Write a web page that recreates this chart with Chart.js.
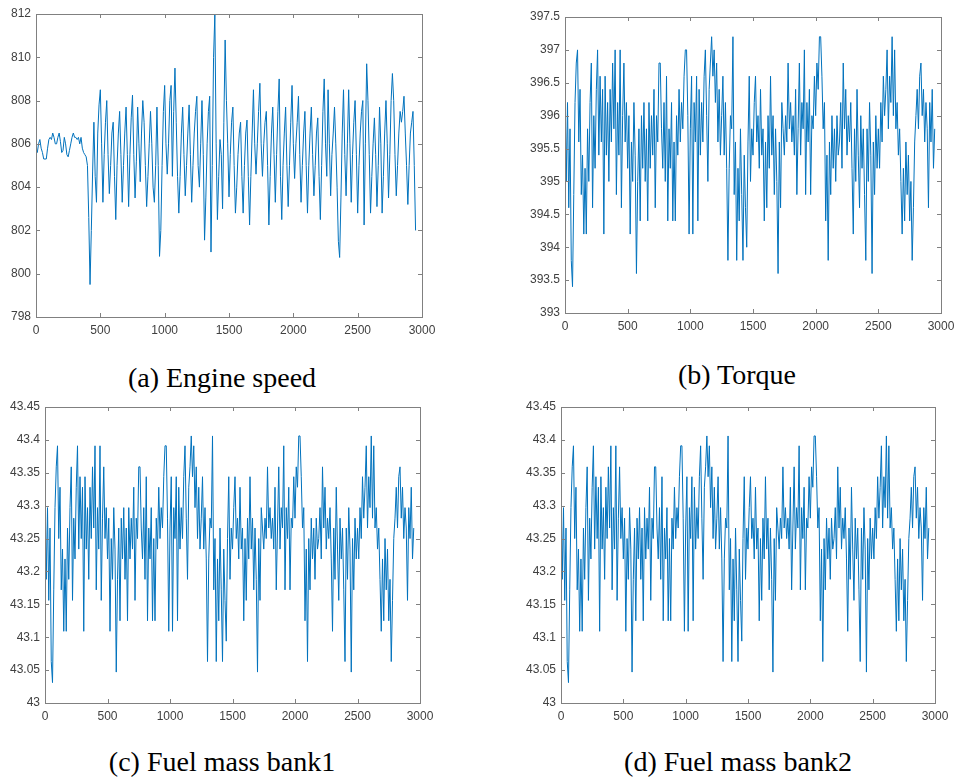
<!DOCTYPE html>
<html>
<head>
<meta charset="utf-8">
<script src="https://cdn.jsdelivr.net/npm/chart.js@4.4.1/dist/chart.umd.min.js"></script>
<style>
  html, body { margin: 0; padding: 0; background: #fff; }
  #page { position: relative; width: 954px; height: 778px; overflow: hidden; }
  canvas { position: absolute; }
  .cap {
    position: absolute; width: 400px; text-align: center;
    font-family: "Liberation Serif", "Times New Roman", serif;
    font-size: 28px; line-height: 28px; color: #000; white-space: nowrap;
  }
</style>
</head>
<body>
<div id="page">
  <canvas id="cSpeed" width="470" height="340" style="left:0;top:0"></canvas>
  <canvas id="cTorque" width="474" height="340" style="left:480px;top:0"></canvas>
  <canvas id="cBank1" width="470" height="340" style="left:0;top:395px"></canvas>
  <canvas id="cBank2" width="474" height="340" style="left:480px;top:395px"></canvas>
  <div class="cap" style="left:22px;top:364px">(a) Engine speed</div>
  <div class="cap" style="left:537px;top:361px">(b) Torque</div>
  <div class="cap" style="left:22px;top:748px">(c) Fuel mass bank1</div>
  <div class="cap" style="left:538px;top:748px">(d) Fuel mass bank2</div>
</div>
<script>
// samples every 10 steps, 0..2950
const SAMPLE_STEP = 10;

const engineSpeed = [
  805.8, 805.6, 806.0, 806.2, 805.8, 805.6, 805.3, 805.3, 805.3, 805.8,
  806.2, 806.3, 806.2, 806.5, 806.3, 806.0, 806.0, 806.3, 806.5, 806.1,
  805.6, 805.7, 806.3, 806.0, 805.5, 805.4, 805.7, 806.0, 806.3, 806.5,
  806.3, 806.3, 806.2, 806.3, 806.0, 806.3, 805.8, 805.6, 805.5, 805.4,
  805.0, 802.6, 799.5, 802.0, 804.7, 807.0, 804.5, 803.3, 806.5, 807.8,
  808.5, 806.0, 803.3, 805.5, 807.0, 808.0, 805.5, 803.7, 805.0, 806.5,
  807.0, 804.5, 802.5, 805.0, 806.5, 807.5, 805.5, 803.3, 805.0, 806.5,
  807.7, 805.5, 803.1, 805.5, 807.2, 808.25, 805.5, 803.5, 805.2, 807.7,
  806.0, 804.25, 806.5, 808.0, 807.0, 805.0, 803.1, 804.5, 806.0, 807.5,
  806.0, 804.0, 803.3, 805.0, 807.7, 805.0, 800.8, 802.0, 805.0, 807.5,
  808.7, 806.0, 804.6, 806.0, 808.0, 808.7, 804.5, 807.5, 809.5, 807.0,
  804.5, 802.8, 804.5, 806.5, 807.7, 805.5, 803.6, 805.0, 806.5, 807.8,
  805.5, 803.3, 805.0, 806.5, 807.5, 808.2, 805.0, 804.0, 806.0, 808.0,
  805.5, 801.55, 803.5, 806.0, 807.5, 808.2, 801.0, 805.0, 810.0, 812.0,
  806.0, 802.5, 804.5, 806.2, 805.5, 803.0, 807.0, 810.8, 808.0, 806.0,
  803.55, 805.5, 807.0, 807.7, 805.0, 802.8, 804.0, 805.5, 806.5, 807.0,
  804.5, 802.8, 805.0, 806.5, 807.1, 804.5, 802.25, 804.5, 806.5, 808.5,
  806.0, 804.6, 806.0, 807.5, 808.8, 806.0, 804.5, 806.0, 807.0, 807.5,
  805.0, 802.25, 804.5, 806.5, 807.7, 805.5, 803.3, 805.5, 807.5, 809.0,
  804.5, 802.5, 805.0, 806.5, 807.7, 805.0, 803.1, 805.0, 807.0, 808.7,
  806.0, 804.4, 806.0, 807.0, 808.2, 805.5, 803.3, 805.0, 806.5, 807.5,
  805.0, 802.8, 805.0, 806.5, 807.7, 805.5, 803.6, 805.0, 806.5, 807.2,
  804.5, 802.5, 805.0, 807.5, 809.0, 806.0, 804.5, 808.5, 806.0, 803.6,
  805.5, 806.5, 807.7, 806.0, 804.0, 801.5, 800.75, 803.5, 806.5, 808.5,
  805.5, 803.6, 806.0, 808.5, 806.0, 803.3, 805.5, 807.0, 808.0, 805.5,
  802.8, 805.0, 806.5, 807.5, 808.0, 802.25, 806.0, 809.7, 808.0, 805.5,
  802.8, 804.5, 806.0, 807.2, 805.5, 803.1, 805.0, 807.7, 806.0, 802.8,
  804.5, 806.5, 808.0, 806.0, 803.5, 805.5, 808.0, 809.25, 808.0, 805.5,
  803.6, 805.0, 806.5, 807.5, 807.0, 807.5, 808.2, 806.5, 805.0, 803.2,
  805.0, 806.5, 807.0, 807.5, 805.0, 802.0
];

const torque = [
  396.4, 395, 396.2, 394.6, 395.8, 393.8, 393.4, 394.8, 396.2, 396.8,
  397, 395.6, 396.4, 394.8, 395.4, 394.2, 395.2, 394.2, 395.8, 395,
  396.2, 396.8, 394.6, 396, 395.2, 396.4, 397, 395.4, 396.6, 395.6,
  396.4, 394.2, 396.6, 395.4, 396.2, 395, 396.4, 395.6, 396.8, 395.8,
  397, 394.8, 396.2, 395.4, 397, 394.6, 396, 396.8, 395.6, 396.2,
  395.2, 396, 394.2, 395.6, 395, 396.2, 395.4, 393.6, 395, 395.8,
  394.4, 396, 395.2, 396.2, 395, 395.8, 394.4, 396.2, 395.2, 396,
  395.4, 396.4, 394.6, 396, 395.6, 396.8, 396.8, 395.8, 395.2, 396.2,
  395, 396.6, 394.4, 395.8, 395.2, 396.2, 394.4, 395.6, 394.4, 396,
  395.4, 396.4, 395.6, 396.2, 395.8, 396.6, 397, 397, 396, 394.2,
  395.8, 396.6, 394.2, 396.2, 395.6, 396.6, 394.4, 396.4, 395.4, 396.2,
  395.6, 396.6, 397, 396, 395, 396.4, 396.8, 397.2, 396.6, 397,
  396.2, 396.8, 395.6, 396.4, 395.4, 396, 396.6, 395.4, 396.2, 395.2,
  393.8, 395.2, 396, 395.8, 397.2, 394.8, 395.6, 393.8, 395.2, 394.4,
  395.8, 394.8, 393.8, 395.4, 394.6, 394, 395.6, 396.6, 395, 395.8,
  395.4, 396.2, 396.6, 395.6, 396, 395.2, 396.4, 395.4, 395.8, 394.4,
  395.6, 394.6, 396, 395.2, 396.6, 395.4, 396, 394.8, 395.8, 395,
  393.6, 395.6, 394.6, 396.2, 395.8, 395.4, 396, 395.6, 396.8, 395.8,
  396.2, 395.6, 396, 395.4, 396.4, 394.8, 395.8, 396.8, 395.4, 396.2,
  395.8, 397, 394.8, 396.2, 395.6, 396.4, 394.8, 396, 395.8, 396.6,
  396, 396.8, 396.4, 397.2, 397.2, 396.6, 395.8, 396.2, 394.4, 395.4,
  393.8, 395.6, 394.8, 396, 395.2, 395.8, 395, 396, 395.4, 395.6,
  396.2, 395.2, 396.8, 395.8, 396.4, 395.4, 396, 395.6, 396.2, 395.2,
  394.2, 395.8, 395, 396.4, 395.4, 394.6, 396, 395.2, 395.8, 394.8,
  393.8, 395.8, 395, 396.2, 395.4, 393.6, 395.6, 394.8, 396, 395.2,
  395.8, 395.2, 396.2, 395.6, 396.6, 396, 396.4, 397, 395.8, 396.6,
  396.2, 397.2, 396, 397, 395.8, 396.2, 395.4, 395.8, 395, 394.2,
  395.2, 394.4, 395.6, 394.8, 395.4, 394.4, 395, 393.8, 394.6, 395.6,
  396, 396.4, 395.8, 396.6, 396.8, 396, 396.4, 395.6, 396.2, 395.8,
  394.6, 396.2, 395.6, 396.4, 395.2, 395.8
];

const fuelBank1 = [
  43.328, 43.188, 43.297, 43.156, 43.266, 43.063, 43.031, 43.172, 43.297, 43.359,
  43.391, 43.25, 43.328, 43.172, 43.234, 43.109, 43.219, 43.109, 43.266, 43.188,
  43.297, 43.359, 43.156, 43.281, 43.219, 43.328, 43.391, 43.234, 43.344, 43.25,
  43.328, 43.109, 43.344, 43.234, 43.297, 43.188, 43.328, 43.25, 43.359, 43.266,
  43.391, 43.172, 43.297, 43.234, 43.391, 43.156, 43.281, 43.359, 43.25, 43.297,
  43.219, 43.281, 43.109, 43.25, 43.188, 43.297, 43.234, 43.047, 43.188, 43.266,
  43.125, 43.281, 43.219, 43.297, 43.188, 43.266, 43.125, 43.297, 43.219, 43.281,
  43.234, 43.328, 43.156, 43.281, 43.25, 43.359, 43.359, 43.266, 43.219, 43.297,
  43.188, 43.344, 43.125, 43.266, 43.219, 43.297, 43.125, 43.25, 43.125, 43.281,
  43.234, 43.328, 43.25, 43.297, 43.266, 43.344, 43.391, 43.391, 43.281, 43.109,
  43.266, 43.344, 43.109, 43.297, 43.25, 43.344, 43.125, 43.328, 43.234, 43.297,
  43.25, 43.344, 43.391, 43.281, 43.188, 43.328, 43.359, 43.406, 43.344, 43.391,
  43.297, 43.359, 43.25, 43.328, 43.234, 43.281, 43.344, 43.234, 43.297, 43.219,
  43.063, 43.219, 43.281, 43.266, 43.406, 43.172, 43.25, 43.063, 43.219, 43.125,
  43.266, 43.172, 43.063, 43.234, 43.156, 43.094, 43.25, 43.344, 43.188, 43.266,
  43.234, 43.297, 43.344, 43.25, 43.281, 43.219, 43.328, 43.234, 43.266, 43.125,
  43.25, 43.156, 43.281, 43.219, 43.344, 43.234, 43.281, 43.172, 43.266, 43.188,
  43.047, 43.25, 43.156, 43.297, 43.266, 43.234, 43.281, 43.25, 43.359, 43.266,
  43.297, 43.25, 43.281, 43.234, 43.328, 43.172, 43.266, 43.359, 43.234, 43.297,
  43.266, 43.391, 43.172, 43.297, 43.25, 43.328, 43.172, 43.281, 43.266, 43.344,
  43.281, 43.359, 43.328, 43.406, 43.406, 43.344, 43.266, 43.297, 43.125, 43.234,
  43.063, 43.25, 43.172, 43.281, 43.219, 43.266, 43.188, 43.281, 43.234, 43.25,
  43.297, 43.219, 43.359, 43.266, 43.328, 43.234, 43.281, 43.25, 43.297, 43.219,
  43.109, 43.266, 43.188, 43.328, 43.234, 43.156, 43.281, 43.219, 43.266, 43.172,
  43.063, 43.266, 43.188, 43.297, 43.234, 43.047, 43.25, 43.172, 43.281, 43.219,
  43.266, 43.219, 43.297, 43.25, 43.344, 43.281, 43.328, 43.391, 43.266, 43.344,
  43.297, 43.406, 43.281, 43.391, 43.266, 43.297, 43.234, 43.266, 43.188, 43.109,
  43.219, 43.125, 43.25, 43.172, 43.234, 43.125, 43.188, 43.063, 43.156, 43.25,
  43.281, 43.328, 43.266, 43.344, 43.359, 43.281, 43.328, 43.25, 43.297, 43.266,
  43.156, 43.297, 43.25, 43.328, 43.219, 43.266
];

const fuelBank2 = [
  43.328, 43.188, 43.297, 43.156, 43.266, 43.063, 43.031, 43.172, 43.297, 43.359,
  43.391, 43.25, 43.328, 43.172, 43.234, 43.109, 43.219, 43.109, 43.266, 43.188,
  43.297, 43.359, 43.156, 43.281, 43.219, 43.328, 43.391, 43.234, 43.344, 43.25,
  43.328, 43.109, 43.344, 43.234, 43.297, 43.188, 43.328, 43.25, 43.359, 43.266,
  43.391, 43.172, 43.297, 43.234, 43.391, 43.156, 43.281, 43.359, 43.25, 43.297,
  43.219, 43.281, 43.109, 43.25, 43.188, 43.297, 43.234, 43.047, 43.188, 43.266,
  43.125, 43.281, 43.219, 43.297, 43.188, 43.266, 43.125, 43.297, 43.219, 43.281,
  43.234, 43.328, 43.156, 43.281, 43.25, 43.359, 43.359, 43.266, 43.219, 43.297,
  43.188, 43.344, 43.125, 43.266, 43.219, 43.297, 43.125, 43.25, 43.125, 43.281,
  43.234, 43.328, 43.25, 43.297, 43.266, 43.344, 43.391, 43.391, 43.281, 43.109,
  43.266, 43.344, 43.109, 43.297, 43.25, 43.344, 43.125, 43.328, 43.234, 43.297,
  43.25, 43.344, 43.391, 43.281, 43.188, 43.328, 43.359, 43.406, 43.344, 43.391,
  43.297, 43.359, 43.25, 43.328, 43.234, 43.281, 43.344, 43.234, 43.297, 43.219,
  43.063, 43.219, 43.281, 43.266, 43.406, 43.172, 43.25, 43.063, 43.219, 43.125,
  43.266, 43.172, 43.063, 43.234, 43.156, 43.094, 43.25, 43.344, 43.188, 43.266,
  43.234, 43.297, 43.344, 43.25, 43.281, 43.219, 43.328, 43.234, 43.266, 43.125,
  43.25, 43.156, 43.281, 43.219, 43.344, 43.234, 43.281, 43.172, 43.266, 43.188,
  43.047, 43.25, 43.156, 43.297, 43.266, 43.234, 43.281, 43.25, 43.359, 43.266,
  43.297, 43.25, 43.281, 43.234, 43.328, 43.172, 43.266, 43.359, 43.234, 43.297,
  43.266, 43.391, 43.172, 43.297, 43.25, 43.328, 43.172, 43.281, 43.266, 43.344,
  43.281, 43.359, 43.328, 43.406, 43.406, 43.344, 43.266, 43.297, 43.125, 43.234,
  43.063, 43.25, 43.172, 43.281, 43.219, 43.266, 43.188, 43.281, 43.234, 43.25,
  43.297, 43.219, 43.359, 43.266, 43.328, 43.234, 43.281, 43.25, 43.297, 43.219,
  43.109, 43.266, 43.188, 43.328, 43.234, 43.156, 43.281, 43.219, 43.266, 43.172,
  43.063, 43.266, 43.188, 43.297, 43.234, 43.047, 43.25, 43.172, 43.281, 43.219,
  43.266, 43.219, 43.297, 43.25, 43.344, 43.281, 43.328, 43.391, 43.266, 43.344,
  43.297, 43.406, 43.281, 43.391, 43.266, 43.297, 43.234, 43.266, 43.188, 43.109,
  43.219, 43.125, 43.25, 43.172, 43.234, 43.125, 43.188, 43.063, 43.156, 43.25,
  43.281, 43.328, 43.266, 43.344, 43.359, 43.281, 43.328, 43.25, 43.297, 43.266,
  43.156, 43.297, 43.25, 43.328, 43.219, 43.266
];

// axis tick settings
const xTicks = { min: 0, max: 3000, step: 500 };
const speedTicks = { min: 798, max: 812, step: 2 };
const torqueTicks = { min: 393, max: 397.5, step: 0.5 };
const fuelTicks = { min: 43, max: 43.45, step: 0.05 };

Chart.defaults.font.family = '"Liberation Sans", Arial, sans-serif';
Chart.defaults.font.size = 12;
Chart.defaults.color = '#404040';

// plain number labels, no thousands separators
const plainNum = v => String(+Number(v).toFixed(2));

// MATLAB-like box with inward ticks on all four sides
const boxPlugin = {
  id: 'matlabBox',
  afterDatasetsDraw(chart) {
    const { ctx, chartArea: a, scales: { x, y } } = chart;
    const len = 4;
    ctx.save();
    ctx.strokeStyle = '#808080';
    ctx.lineWidth = 1;
    ctx.beginPath();
    x.ticks.forEach(t => {
      const px = Math.round(x.getPixelForValue(t.value)) + 0.5;
      ctx.moveTo(px, a.bottom); ctx.lineTo(px, a.bottom - len);
      ctx.moveTo(px, a.top); ctx.lineTo(px, a.top + len);
    });
    y.ticks.forEach(t => {
      const py = Math.round(y.getPixelForValue(t.value)) + 0.5;
      ctx.moveTo(a.left, py); ctx.lineTo(a.left + len, py);
      ctx.moveTo(a.right, py); ctx.lineTo(a.right - len, py);
    });
    ctx.stroke();
    ctx.strokeRect(Math.round(a.left) + 0.5, Math.round(a.top) + 0.5,
      Math.round(a.right - a.left), Math.round(a.bottom - a.top));
    ctx.restore();
  }
};

function makePanel(id, values, yt, box) {
  const canvas = document.getElementById(id);
  const W = canvas.width, H = canvas.height;
  const pts = values.map((v, i) => ({ x: i * SAMPLE_STEP, y: v }));
  new Chart(canvas, {
    type: 'line',
    data: {
      datasets: [{
        data: pts,
        borderColor: '#0072BD',
        borderWidth: 1,
        pointRadius: 0,
        tension: 0,
        fill: false
      }]
    },
    options: {
      responsive: false,
      animation: false,
      devicePixelRatio: 1,
      layout: { padding: { left: 0, top: box.top, right: W - box.right, bottom: 0 } },
      plugins: { legend: { display: false }, tooltip: { enabled: false } },
      scales: {
        x: {
          type: 'linear',
          min: xTicks.min, max: xTicks.max,
          grid: { display: false, drawTicks: false },
          border: { display: false },
          ticks: { stepSize: xTicks.step, autoSkip: false, maxRotation: 0, padding: 6, callback: plainNum },
          afterFit(s) { s.height = H - box.bottom; s.paddingLeft = 0; s.paddingRight = 0; }
        },
        y: {
          min: yt.min, max: yt.max,
          grid: { display: false, drawTicks: false },
          border: { display: false },
          ticks: { stepSize: yt.step, padding: 5, callback: plainNum },
          afterFit(s) { s.width = box.left; s.paddingTop = 0; s.paddingBottom = 0; }
        }
      }
    },
    plugins: [boxPlugin]
  });
}

makePanel('cSpeed', engineSpeed, speedTicks, { left: 36, right: 422, top: 14, bottom: 317 });
makePanel('cTorque', torque, torqueTicks, { left: 85, right: 461, top: 17, bottom: 313 });
makePanel('cBank1', fuelBank1, fuelTicks, { left: 45, right: 420, top: 12, bottom: 308 });
makePanel('cBank2', fuelBank2, fuelTicks, { left: 81, right: 455, top: 12, bottom: 308 });
</script>
</body>
</html>
